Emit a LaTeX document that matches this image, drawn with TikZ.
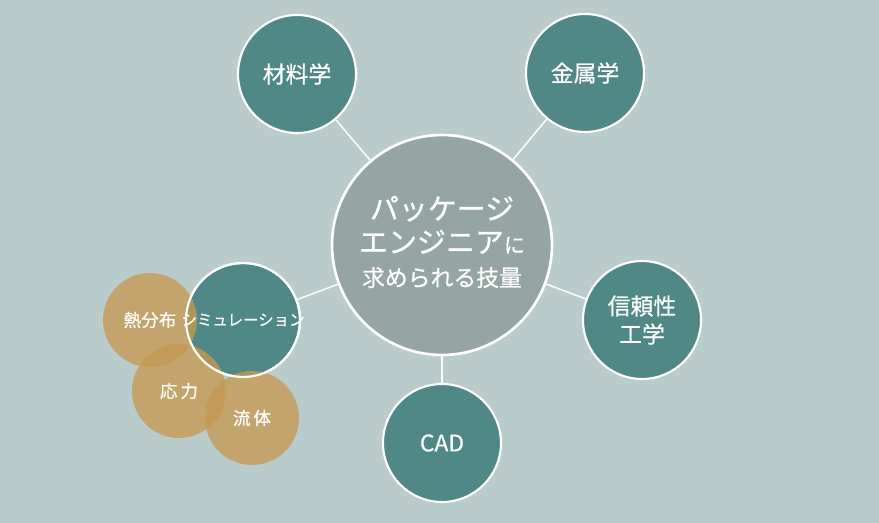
\documentclass[tikz,border=0pt]{standalone}
\usepackage{fontspec}
\newfontfamily\jp[FakeBold=0.6]{Noto Sans CJK JP}
\definecolor{bg}{HTML}{B9CCCB}
\definecolor{teal}{HTML}{4F8886}
\definecolor{cgray}{HTML}{95A5A3}
\definecolor{ochre}{HTML}{C59A52}
\begin{document}
\begin{tikzpicture}[x=0.02cm,y=-0.02cm,
  sat/.style={circle,fill=teal,draw=white,line width=1.2pt,text=white,font=\jp\fontsize{13}{16}\selectfont,align=center,inner sep=0pt,minimum size=2.36cm},
  orb/.style={circle,fill=ochre,fill opacity=0.78,text opacity=1,text=white,font=\jp\fontsize{10}{12}\selectfont,inner sep=0pt,minimum size=1.88cm},
  link/.style={draw=white,line width=0.8pt}]
\fill[bg] (0,0) rectangle (879,523);
\useasboundingbox (0,0) rectangle (879,523);
\node[circle,fill=cgray,draw=white,line width=1.5pt,minimum size=4.4cm,inner sep=0pt] (c) at (442,245) {};
\node[text=white,font=\jp\fontsize{16.5}{19}\selectfont,align=center] (ct) at (442,242) {パッケージ\\エンジニア{\fontsize{12}{14}\selectfont に}\\{\fontsize{13}{16}\selectfont 求められる技量}};
\node[sat] (a) at (297,74) {材料学};
\node[sat] (b) at (585,73) {金属学};
\node[sat] (r) at (642,320) {信頼性\\工学};
\node[sat] (d) at (442,443) {CAD};
\node[sat,minimum size=2.28cm] (s) at (243,320) {};
\foreach \n in {a,b,r,d,s} \draw[link] (c) -- (\n);
\node[orb] (o1) at (150,320) {};
\node[orb] (o2) at (179,391) {};
\node[orb] (o3) at (252,418) {};
\node[circle,draw=white,line width=1.2pt,inner sep=0pt,minimum size=2.28cm] (sb) at (s) {};
\node[text=white,font=\jp\fontsize{10}{12}\selectfont] (t1) at (o1) {熱分布};
\node[text=white,font=\jp\fontsize{10}{12}\selectfont] (t2) at (o2) {応\,力};
\node[text=white,font=\jp\fontsize{10}{12}\selectfont] (t3) at (o3) {流\,体};
\node[text=white,font=\jp\fontsize{8.8}{10}\selectfont] (st) at (s) {シミュレーション};
\end{tikzpicture}
\end{document}
